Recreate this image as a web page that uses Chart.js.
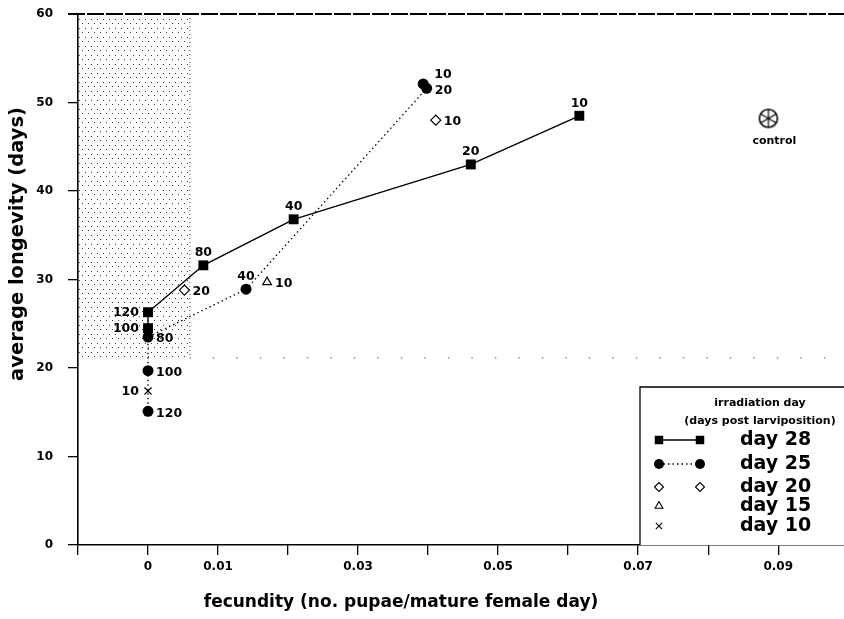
<!DOCTYPE html>
<html>
<head>
<meta charset="utf-8">
<script src="https://cdn.jsdelivr.net/npm/chart.js@4.4.1/dist/chart.umd.min.js"></script>
<style>
  html, body { margin: 0; padding: 0; background: #fff; }
  #wrap { width: 844px; height: 619px; }
</style>
</head>
<body>
<div id="wrap"><canvas id="c" width="844" height="619"></canvas></div>
<script>
// Dose (Gy) labels with fecundity and average longevity, per irradiation day
const day28Doses = ['10', '20', '40', '80', '120', '100'];
const day28Fecundity = [0.0616, 0.0461, 0.0208, 0.0079, 0, 0];
const day28Longevity = [48.5, 43.0, 36.8, 31.6, 26.3, 24.5];

const day25Doses = ['10', '20', '40', '80', '100', '120'];
const day25Fecundity = [0.0393, 0.0398, 0.0140, 0, 0, 0];
const day25Longevity = [52.1, 51.6, 28.9, 23.5, 19.7, 15.1];

const day20Doses = ['20', '10'];
const day20Fecundity = [0.0052, 0.0411];
const day20Longevity = [28.8, 48.0];

const day15Doses = ['10'];
const day15Fecundity = [0.0170];
const day15Longevity = [29.7];

const day10Doses = ['10'];
const day10Fecundity = [0];
const day10Longevity = [17.4];

const controlFecundity = [0.0886];
const controlLongevity = [48.2];

// Axis ticks
const xTickValues = [-0.01, 0, 0.01, 0.02, 0.03, 0.04, 0.05, 0.06, 0.07, 0.08, 0.09];
const xTickLabels = ['', '0', '0.01', '', '0.03', '', '0.05', '', '0.07', '', '0.09'];
const yTickValues = [0, 10, 20, 30, 40, 50, 60];

// Shaded zone: near-zero fecundity with longevity above the threshold
const zoneFecundityMax = [0.0059];
const zoneLongevityMin = [21.2];

const legendTitle = ['irradiation day', '(days post larviposition)'];
const legendLabels = ['day 28', 'day 25', 'day 20', 'day 15', 'day 10'];
const controlLabel = 'control';

// Where each dose label sits relative to its marker
const day28Place = ['above', 'above', 'above', 'above', 'left', 'left'];
const day25Place = ['upright', 'right', 'above', 'right', 'right', 'right'];
const day20Place = ['right', 'right'];
const day15Place = ['right'];
const day10Place = ['left'];

const FONT = '"DejaVu Sans", "Liberation Sans", sans-serif';

function pts(xs, ys) { return xs.map((x, i) => ({ x: x, y: ys[i] })); }

// Dot stipple used for the shaded zone
const stipple = (() => {
  const c = document.createElement('canvas');
  c.width = 6; c.height = 9;
  const g = c.getContext('2d');
  g.fillStyle = '#3a3a3a';
  g.fillRect(1, 1, 1, 1);
  g.fillRect(4, 5, 1, 1);
  return c;
})();

// Circled asterisk marker for the unirradiated control
const controlGlyph = (() => {
  const s = 22, c = document.createElement('canvas');
  c.width = s; c.height = s;
  const g = c.getContext('2d');
  const r = 9, cx = s / 2, cy = s / 2;
  g.strokeStyle = '#000';
  g.lineWidth = 1.6;
  g.beginPath(); g.arc(cx, cy, r, 0, Math.PI * 2); g.stroke();
  g.lineWidth = 1.2;
  for (let k = 0; k < 3; k++) {
    const a = Math.PI / 2 + k * Math.PI / 3;
    g.beginPath();
    g.moveTo(cx + r * Math.cos(a), cy + r * Math.sin(a));
    g.lineTo(cx - r * Math.cos(a), cy - r * Math.sin(a));
    g.stroke();
  }
  return c;
})();

const datasets = [
  {
    label: legendLabels[0], data: pts(day28Fecundity, day28Longevity),
    doses: day28Doses, place: day28Place,
    showLine: true, borderColor: '#000', borderWidth: 1.4,
    pointStyle: 'rect', pointRadius: 7, backgroundColor: '#000', pointBorderWidth: 0
  },
  {
    label: legendLabels[1], data: pts(day25Fecundity, day25Longevity),
    doses: day25Doses, place: day25Place,
    showLine: true, borderColor: '#000', borderWidth: 1.3, borderDash: [1.5, 3],
    pointStyle: 'circle', pointRadius: 5.5, backgroundColor: '#000', pointBorderWidth: 0
  },
  {
    label: legendLabels[2], data: pts(day20Fecundity, day20Longevity),
    doses: day20Doses, place: day20Place,
    showLine: false, borderColor: '#000', borderWidth: 1.2,
    pointStyle: 'rectRot', pointRadius: 5, backgroundColor: '#fff'
  },
  {
    label: legendLabels[3], data: pts(day15Fecundity, day15Longevity),
    doses: day15Doses, place: day15Place,
    showLine: false, borderColor: '#000', borderWidth: 1.2,
    pointStyle: 'triangle', pointRadius: 5, backgroundColor: '#fff'
  },
  {
    label: legendLabels[4], data: pts(day10Fecundity, day10Longevity),
    doses: day10Doses, place: day10Place,
    showLine: false, borderColor: '#000', borderWidth: 1.2,
    pointStyle: 'crossRot', pointRadius: 5, backgroundColor: '#fff'
  },
  {
    label: controlLabel, data: pts(controlFecundity, controlLongevity),
    showLine: false, borderColor: '#000', pointStyle: controlGlyph, isControl: true
  }
];

const decor = {
  id: 'decor',
  beforeDatasetsDraw(chart) {
    const { ctx, chartArea: ca, scales: { x, y } } = chart;
    const zx = x.getPixelForValue(zoneFecundityMax[0]);
    const zy = y.getPixelForValue(zoneLongevityMin[0]);
    ctx.save();
    ctx.fillStyle = ctx.createPattern(stipple, 'repeat');
    ctx.fillRect(ca.left + 1, ca.top + 1, zx - ca.left - 1, zy - ca.top - 1);
    // faint dotted edge of the zone
    ctx.strokeStyle = '#555';
    ctx.lineWidth = 1;
    ctx.setLineDash([1, 3]);
    ctx.beginPath(); ctx.moveTo(zx + 0.5, ca.top); ctx.lineTo(zx + 0.5, zy); ctx.stroke();
    ctx.setLineDash([1.5, 22]);
    ctx.beginPath(); ctx.moveTo(zx, zy + 0.5); ctx.lineTo(ca.right, zy + 0.5); ctx.stroke();
    // top frame line
    ctx.setLineDash([17, 2]);
    ctx.strokeStyle = '#000';
    ctx.lineWidth = 2;
    ctx.beginPath(); ctx.moveTo(ca.left - 10, ca.top); ctx.lineTo(ca.right, ca.top); ctx.stroke();
    ctx.restore();
  },
  afterDatasetsDraw(chart) {
    const { ctx, chartArea: ca } = chart;
    ctx.save();
    ctx.fillStyle = '#000';
    const labelFont = 'bold 12.5px ' + FONT;
    ctx.font = labelFont;
    chart.data.datasets.forEach((ds, di) => {
      const meta = chart.getDatasetMeta(di);
      if (ds.isControl) {
        const p = meta.data[0];
        ctx.font = 'bold 11px ' + FONT;
        ctx.textAlign = 'center';
        ctx.textBaseline = 'middle';
        ctx.fillText(controlLabel, p.x + 6, p.y + 23);
        ctx.font = labelFont;
        return;
      }
      meta.data.forEach((p, i) => {
        const t = ds.doses[i];
        const where = ds.place[i];
        let tx = p.x, ty = p.y;
        if (where === 'above') {
          ctx.textAlign = 'center'; ctx.textBaseline = 'alphabetic'; ty = p.y - 9;
        } else if (where === 'left') {
          ctx.textAlign = 'right'; ctx.textBaseline = 'middle'; tx = p.x - 9; ty = p.y + 1;
        } else if (where === 'upright') {
          ctx.textAlign = 'left'; ctx.textBaseline = 'middle'; tx = p.x + 11; ty = p.y - 9;
        } else {
          ctx.textAlign = 'left'; ctx.textBaseline = 'middle'; tx = p.x + 8; ty = p.y + 2;
        }
        ctx.fillText(t, tx, ty);
      });
    });

    // legend box
    const left = ca.right - 204, top = ca.bottom - 158;
    ctx.fillStyle = '#fff';
    ctx.fillRect(left, top, ca.right - left, ca.bottom - top);
    ctx.strokeStyle = '#000';
    ctx.lineWidth = 1.3;
    ctx.beginPath();
    ctx.moveTo(left, ca.bottom); ctx.lineTo(left, top); ctx.lineTo(ca.right, top);
    ctx.stroke();

    ctx.fillStyle = '#000';
    ctx.font = 'bold 11px ' + FONT;
    ctx.textAlign = 'center';
    ctx.textBaseline = 'middle';
    ctx.fillText(legendTitle[0], left + 120, top + 16);
    ctx.fillText(legendTitle[1], left + 120, top + 34);

    const rowY = [53, 77, 100, 119, 139];
    const m1 = left + 19, m2 = left + 60;
    const H = Chart.helpers;
    datasets.slice(0, 5).forEach((ds, i) => {
      const yy = top + rowY[i];
      if (ds.showLine) {
        ctx.save();
        ctx.strokeStyle = '#000';
        ctx.lineWidth = ds.borderWidth;
        ctx.setLineDash(ds.borderDash || []);
        ctx.beginPath(); ctx.moveTo(m1, yy); ctx.lineTo(m2, yy); ctx.stroke();
        ctx.restore();
      }
      const opts = {
        pointStyle: ds.pointStyle, rotation: 0,
        radius: Math.max(ds.pointRadius - (ds.pointStyle === 'rect' ? 1 : 0.5), 3),
        borderWidth: ds.pointBorderWidth === 0 ? 0 : 1.1
      };
      ctx.save();
      ctx.fillStyle = ds.backgroundColor;
      ctx.strokeStyle = '#000';
      ctx.lineWidth = 1.1;
      H.drawPoint(ctx, opts, m1, yy);
      if (ds.data.length > 1) H.drawPoint(ctx, opts, m2, yy);
      ctx.restore();
      ctx.fillStyle = '#000';
      ctx.font = 'bold 19px ' + FONT;
      ctx.textAlign = 'left';
      ctx.textBaseline = 'middle';
      ctx.fillText(legendLabels[i], left + 100, yy);
    });
    ctx.restore();
  },
  afterDraw(chart) {
    const { ctx } = chart;
    ctx.save();
    ctx.fillStyle = '#000';
    ctx.font = 'bold 17px ' + FONT;
    ctx.textAlign = 'center';
    ctx.textBaseline = 'middle';
    ctx.fillText('fecundity (no. pupae/mature female day)', 401, 603);
    ctx.translate(18, 244);
    ctx.rotate(-Math.PI / 2);
    ctx.font = 'bold 19.5px ' + FONT;
    ctx.fillText('average longevity (days)', 0, 0);
    ctx.restore();
  }
};

Chart.defaults.font.family = FONT;
Chart.defaults.color = '#000';

new Chart(document.getElementById('c'), {
  type: 'scatter',
  data: { datasets: datasets },
  options: {
    responsive: false,
    animation: false,
    layout: { autoPadding: false, padding: { top: 14, right: 0, left: 0, bottom: 0 } },
    plugins: { legend: { display: false }, tooltip: { enabled: false } },
    scales: {
      x: {
        type: 'linear', min: -0.01, max: 0.0994,
        afterBuildTicks: s => { s.ticks = xTickValues.map(v => ({ value: v })); },
        afterFit: s => { s.height = 74; s.paddingLeft = 0; s.paddingRight = 0; },
        ticks: {
          callback: (v, i) => xTickLabels[i],
          autoSkip: false, maxRotation: 0, color: '#000',
          font: { size: 12, weight: 'bold' }, padding: 5
        },
        grid: { drawOnChartArea: false, drawTicks: true, tickLength: 10, color: '#000', lineWidth: 1.3 },
        border: { display: true, color: '#000', width: 1.6, dash: [16, 2] }
      },
      y: {
        type: 'linear', min: 0, max: 60,
        afterBuildTicks: s => { s.ticks = yTickValues.map(v => ({ value: v })); },
        afterFit: s => { s.width = 78; s.paddingTop = 0; s.paddingBottom = 0; },
        ticks: { color: '#000', font: { size: 12, weight: 'bold' }, padding: 15 },
        grid: { drawOnChartArea: false, drawTicks: true, tickLength: 10, color: '#000', lineWidth: 1.3 },
        border: { display: true, color: '#000', width: 1.6 }
      }
    }
  },
  plugins: [decor]
});
</script>
</body>
</html>
